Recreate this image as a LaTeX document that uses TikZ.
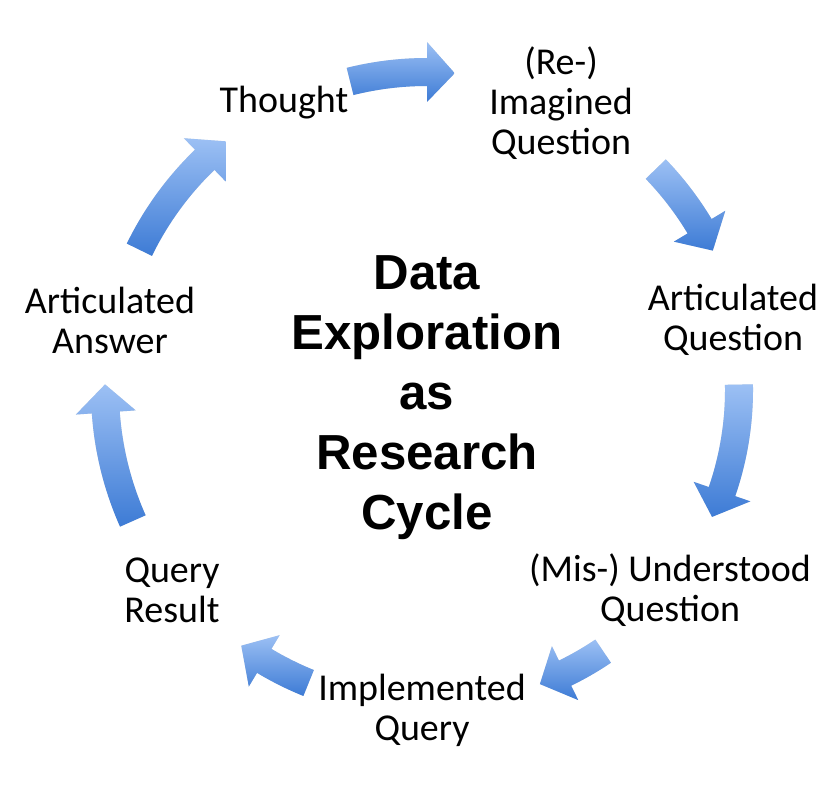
\documentclass[tikz,border=0pt]{standalone}
\usepackage{fontspec}
\setmainfont{Carlito}
\newfontfamily\titlefont{Liberation Sans}
\usetikzlibrary{calc, positioning}

\definecolor{arrowlight}{HTML}{9CC0F4}
\definecolor{arrowdark}{HTML}{3D7BD5}

\tikzset{
  step label/.style={align=center, font=\fontsize{27}{28.5}\selectfont},
  cycle title/.style={align=center, font=\titlefont\bfseries\fontsize{35}{42.7}\selectfont},
  cycle arrow/.style={top color=arrowlight, bottom color=arrowdark},
  arrow shadow/.style={black, opacity=0.12},
}

% curved block arrow on the ring: #1 tail angle, #2 tip angle, #3 radius
\newcommand{\cyclearrow}[3]{%
  \fill[arrow shadow, shift={(2,-3)}] ($(ring)+(#1:#3+14)$) arc[start angle=#1, end angle=#2+5, radius=#3+14]
    -- ($(ring)+(#2+5:#3+30)$) -- ($(ring)+(#2:#3)$) -- ($(ring)+(#2+5:#3-30)$)
    -- ($(ring)+(#2+5:#3-14)$) arc[start angle=#2+5, end angle=#1, radius=#3-14] -- cycle;
  \path[cycle arrow] ($(ring)+(#1:#3+14)$) arc[start angle=#1, end angle=#2+5, radius=#3+14]
    -- ($(ring)+(#2+5:#3+30)$) -- ($(ring)+(#2:#3)$) -- ($(ring)+(#2+5:#3-30)$)
    -- ($(ring)+(#2+5:#3-14)$) arc[start angle=#2+5, end angle=#1, radius=#3-14] -- cycle;
}

\begin{document}
\begin{tikzpicture}[x=0.025cm, y=0.025cm]
\useasboundingbox (0,0) rectangle (840,-788);

% Centre of the cycle
\coordinate (ring) at (427,-390);
\node[cycle title] (title) at (427,-398) {Data\\Exploration\\as\\Research\\Cycle};

% Steps of the cycle
\node[step label] (thought) at (284,-103) {Thought};
\node[step label] (imagined) at (561,-103) {(Re-)\\Imagined\\Question};
\node[step label] (artq) at (733,-320) {Articulated\\Question};
\node[step label] (understood) at (670,-590) {(Mis-) Understood\\Question};
\node[step label] (implemented) at (422,-710) {Implemented\\Query};
\node[step label] (result) at (172,-590) {Query\\Result};
\node[step label] (answer) at (110,-320) {Articulated\\Answer};

% Arrows round the ring
\cyclearrow{104}{85}{318}
\cyclearrow{44}{26}{318}
\cyclearrow{1}{-24}{312}
\cyclearrow{-56}{-69}{315}
\cyclearrow{-112}{-126}{316}
\cyclearrow{204}{179}{322}
\cyclearrow{154}{129}{320}
\end{tikzpicture}
\end{document}
